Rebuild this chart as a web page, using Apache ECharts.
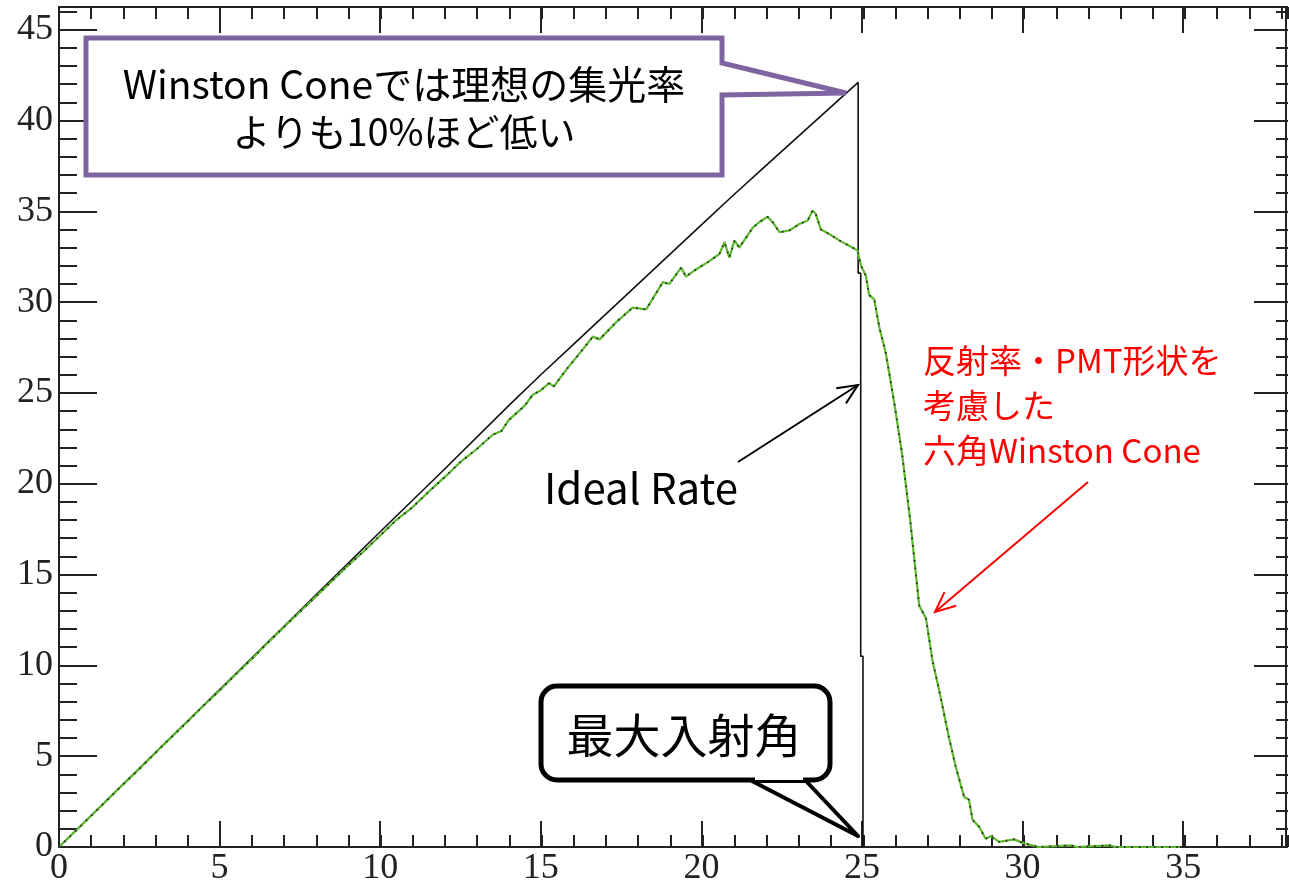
<!DOCTYPE html>
<html>
<head>
<meta charset="utf-8">
<script src="https://cdn.jsdelivr.net/npm/echarts@6/dist/echarts.min.js"></script>
<style>
  html, body { margin: 0; padding: 0; background: #fff; }
  #chart { width: 1289px; height: 889px; }
</style>
</head>
<body>
<div id="chart"></div>
<script>
// ideal collection rate (black)
const idealX = [0, 2, 4, 6, 8, 10, 12, 14, 15, 16, 17, 18, 19, 20, 21, 22, 23, 24, 24.88, 24.88, 24.96, 24.96, 25.03, 25.03]
const idealY = [0, 3.47, 6.94, 10.4, 13.88, 17.36, 20.8, 24.3, 26.0, 27.65, 29.3, 30.95, 32.6, 34.25, 35.9, 37.5, 39.1, 40.7, 42.1, 31.6, 31.6, 10.5, 10.5, 0]

// hexagonal Winston cone with reflectivity / PMT shape (green)
const coneX = [0, 0.5, 1, 1.5, 2, 2.5, 3, 3.5, 4, 4.5, 5, 5.5, 6, 6.5, 7, 7.5, 8, 8.5, 9, 9.5,
  10, 10.5, 11, 11.5, 12, 12.5, 13, 13.5, 13.77, 14, 14.5, 14.75, 15, 15.27, 15.4, 15.8, 16.31, 16.62, 16.83, 17.35,
  17.86, 18.28, 18.59, 18.8, 19.0, 19.37, 19.52, 19.83, 20.2, 20.56, 20.72, 20.87, 21.03, 21.18, 21.6, 21.8,
  22.06, 22.22, 22.43, 22.74, 23.05, 23.31, 23.46, 23.56, 23.72, 23.98, 24.29, 24.6, 24.86, 24.97, 25.12, 25.22,
  25.38, 25.54, 25.74, 26.0, 26.25, 26.5, 26.78, 26.99, 27.19, 27.4, 27.71, 27.92, 28.18, 28.33, 28.44, 28.65,
  28.85, 29.01, 29.27, 29.73, 30.05, 30.5, 31.5, 31.7, 32.7, 32.9, 34.9]
const coneY = [0, 0.85, 1.72, 2.58, 3.45, 4.3, 5.18, 6.05, 6.9, 7.78, 8.62, 9.5, 10.35, 11.25, 12.1, 12.95, 13.8, 14.65, 15.5, 16.3,
  17.15, 18.0, 18.7, 19.55, 20.35, 21.2, 21.9, 22.7, 22.9, 23.5, 24.3, 24.9, 25.15, 25.55, 25.35, 26.3, 27.4, 28.1, 27.95, 28.9,
  29.7, 29.6, 30.5, 31.1, 31.0, 31.9, 31.4, 31.8, 32.2, 32.65, 33.3, 32.45, 33.4, 33.0, 34.1, 34.4,
  34.7, 34.4, 33.85, 33.95, 34.3, 34.5, 35.05, 34.85, 34.0, 33.75, 33.4, 33.1, 32.85, 32.0, 31.45, 30.4,
  30.15, 28.6, 27.2, 24.5, 21.6, 18.0, 13.3, 12.6, 10.3, 8.65, 6.0, 4.4, 2.75, 2.6, 1.5, 1.1,
  0.45, 0.6, 0.28, 0.42, 0.2, 0, 0.09, 0, 0.09, 0, 0]

const xMax = 38.2
const yMax = 46.25
const majorStep = 5
const minorStep = 1

const idealData = idealX.map((x, i) => [x, idealY[i]])
const coneData = coneX.map((x, i) => [x, coneY[i]])

const axisColor = '#222'
const tickFont = 'Liberation Serif'
const jpFont = '"Noto Sans CJK JP", "Noto Sans", sans-serif'

function majorLabel(v) {
  return v % majorStep === 0 ? String(v) : ''
}

function xAxisOf(gridIndex, position, major) {
  return {
    type: 'value',
    gridIndex,
    position,
    min: 0,
    max: xMax,
    interval: major ? majorStep : minorStep,
    axisLine: { show: major, onZero: false, lineStyle: { color: axisColor, width: 2 } },
    axisTick: { inside: true, length: major ? 26 : 12, lineStyle: { color: axisColor, width: 2 } },
    axisLabel: {
      show: major && position === 'bottom',
      formatter: majorLabel,
      fontFamily: tickFont,
      fontSize: 36,
      color: axisColor,
      margin: 4
    },
    splitLine: { show: false }
  }
}

function yAxisOf(gridIndex, position, major) {
  const left = position === 'left'
  return {
    type: 'value',
    gridIndex,
    position,
    min: 0,
    max: yMax,
    interval: major ? majorStep : minorStep,
    axisLine: { show: major, onZero: false, lineStyle: { color: axisColor, width: 2 } },
    axisTick: { inside: true, length: major ? (left ? 38 : 32) : (left ? 18 : 12), lineStyle: { color: axisColor, width: 2 } },
    axisLabel: {
      show: major && left,
      formatter: majorLabel,
      fontFamily: tickFont,
      fontSize: 36,
      color: axisColor,
      margin: 6
    },
    splitLine: { show: false }
  }
}

// open arrow head helper for annotations
function arrow(from, to, color) {
  const ang = Math.atan2(to[1] - from[1], to[0] - from[0])
  const len = 22, spread = 0.42
  const p1 = [to[0] - len * Math.cos(ang - spread), to[1] - len * Math.sin(ang - spread)]
  const p2 = [to[0] - len * Math.cos(ang + spread), to[1] - len * Math.sin(ang + spread)]
  return [
    { type: 'polyline', z: 100, shape: { points: [from, to] }, style: { stroke: color, lineWidth: 2, fill: null } },
    { type: 'polyline', z: 100, shape: { points: [p1, to, p2] }, style: { stroke: color, lineWidth: 2, fill: null } }
  ]
}

function label(text, x, y, size, color, align) {
  return {
    type: 'text', z: 101, x, y,
    style: { text, font: size + 'px ' + jpFont, fill: color, align: align || 'center', verticalAlign: 'middle' }
  }
}

const chart = echarts.init(document.getElementById('chart'), null, { renderer: 'canvas' })

chart.setOption({
  animation: false,
  backgroundColor: '#fff',
  grid: [
    { left: 59, right: 1, top: 7, bottom: 42 },
    { left: 59, right: 1, top: 7, bottom: 42 }
  ],
  xAxis: [
    xAxisOf(0, 'bottom', true),
    xAxisOf(0, 'top', true),
    xAxisOf(1, 'bottom', false),
    xAxisOf(1, 'top', false)
  ],
  yAxis: [
    yAxisOf(0, 'left', true),
    yAxisOf(0, 'right', true),
    yAxisOf(1, 'left', false),
    yAxisOf(1, 'right', false)
  ],
  series: [
    {
      name: 'Ideal Rate',
      type: 'line',
      xAxisIndex: 0,
      yAxisIndex: 0,
      data: idealData,
      symbol: 'none',
      lineStyle: { color: '#111', width: 1.6 }
    },
    {
      name: '六角Winston Cone',
      type: 'line',
      xAxisIndex: 0,
      yAxisIndex: 0,
      data: coneData,
      symbol: 'none',
      lineStyle: { color: '#5cb82e', width: 2.2 }
    },
    {
      name: 'cone dots',
      type: 'line',
      xAxisIndex: 0,
      yAxisIndex: 0,
      data: coneData,
      symbol: 'none',
      lineStyle: { color: '#222', width: 1.8, type: [1.5, 6] }
    }
  ],
  graphic: [
    // purple callout
    {
      type: 'polygon', z: 90,
      shape: { points: [[86, 38], [722, 38], [722, 63], [846, 93], [722, 95], [722, 175], [86, 175]] },
      style: { fill: '#fff', stroke: '#8064a2', lineWidth: 5, lineJoin: 'miter', miterLimit: 3 }
    },
    label('Winston Coneでは理想の集光率', 404, 84, 39, '#000'),
    label('よりも10%ほど低い', 404, 132, 38, '#000'),
    // Ideal Rate
    label('Ideal Rate', 641, 488, 42, '#000'),
    ...arrow([738, 462], [858, 385], '#000'),
    // red note
    label('反射率・PMT形状を', 923, 360, 33, '#ff0000', 'left'),
    label('考慮した', 923, 405, 33, '#ff0000', 'left'),
    label('六角Winston Cone', 923, 450, 33, '#ff0000', 'left'),
    ...arrow([1088, 482], [935, 612], '#ff0000'),
    // max incidence angle callout
    {
      type: 'rect', z: 90,
      shape: { x: 541, y: 686, width: 289, height: 94, r: 16 },
      style: { fill: '#fff', stroke: '#000', lineWidth: 5 }
    },
    {
      type: 'polygon', z: 91,
      shape: { points: [[752, 781], [858, 836], [806, 781]] },
      style: { fill: '#fff', stroke: '#000', lineWidth: 4, lineJoin: 'round' }
    },
    {
      type: 'rect', z: 92,
      shape: { x: 755, y: 775, width: 48, height: 5 },
      style: { fill: '#fff' }
    },
    label('最大入射角', 684, 735, 47, '#000')
  ]
})
</script>
</body>
</html>
